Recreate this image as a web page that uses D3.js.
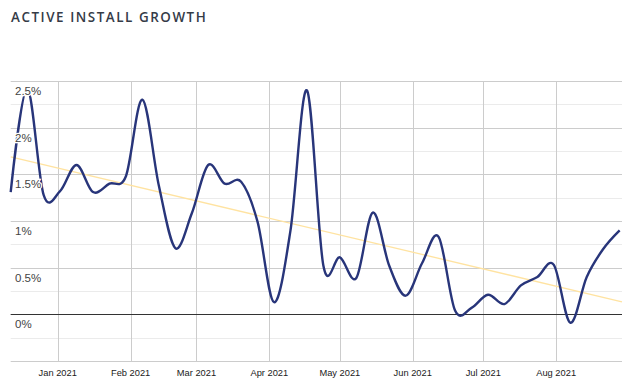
<!DOCTYPE html>
<html>
<head>
<meta charset="utf-8">
<script src="https://cdn.jsdelivr.net/npm/d3@7"></script>
<style>
  html, body { margin: 0; padding: 0; background: #fff; }
  svg { display: block; }
</style>
</head>
<body>
<svg id="chart" width="634" height="390"></svg>
<script>
// ---- data ----
const title = "ACTIVE INSTALL GROWTH";
const startDate = "2020-12-12";          // first weekly point
const growth = [                          // weekly active install growth, %
  1.31, 2.42, 1.28, 1.32, 1.60, 1.31, 1.40, 1.48, 2.30, 1.38,
  0.71, 1.08, 1.60, 1.40, 1.42, 0.99, 0.13, 0.90, 2.40, 0.52,
  0.61, 0.39, 1.09, 0.52, 0.20, 0.55, 0.83, 0.04, 0.07, 0.21,
  0.11, 0.31, 0.40, 0.53, -0.09, 0.40, 0.70, 0.90
];
const domainDates = ["2020-12-12", "2021-08-29"];
const yDomain = [-0.5, 2.5];
const yTickValues = [-0.5, -0.25, 0, 0.25, 0.5, 0.75, 1, 1.25, 1.5, 1.75, 2, 2.25, 2.5];
const yLabels = [
  { v: 2.5, t: "2.5%" }, { v: 2, t: "2%" }, { v: 1.5, t: "1.5%" },
  { v: 1, t: "1%" }, { v: 0.5, t: "0.5%" }, { v: 0, t: "0%" }
];
const monthLabels = ["Jan 2021", "Feb 2021", "Mar 2021", "Apr 2021", "May 2021", "Jun 2021", "Jul 2021", "Aug 2021"];

// ---- build ----
(function () {
const parse = d3.timeParse("%Y-%m-%d");
const t0 = parse(startDate);
const data = growth.map((v, i) => ({ date: d3.timeDay.offset(t0, 7 * i), v }));

const svg = d3.select("#chart");
const pLeft = 10.7, pRight = 622, pTop = 81, pBottom = 361;

const x = d3.scaleTime().domain(domainDates.map(parse)).range([pLeft, pRight]);
const y = d3.scaleLinear().domain(yDomain).range([pBottom, pTop]);

// title
svg.append("text")
  .attr("x", 11).attr("y", 22)
  .attr("font-family", "'Open Sans', sans-serif")
  .attr("font-size", 13.4).attr("font-weight", 600)
  .attr("letter-spacing", 1.55)
  .attr("fill", "#353b47")
  .text(title);

// horizontal grid
svg.append("g").selectAll("line").data(yTickValues).join("line")
  .attr("x1", pLeft).attr("x2", pRight)
  .attr("y1", d => Math.round(y(d)) + 0.5).attr("y2", d => Math.round(y(d)) + 0.5)
  .attr("stroke", d => (Math.abs(d * 2 - Math.round(d * 2)) < 1e-9) ? "#cccccc" : "#ebebeb")
  .attr("stroke-width", 1);

// vertical month grid
const months = d3.timeMonth.range(d3.timeMonth.ceil(x.domain()[0]), x.domain()[1]);
svg.append("g").selectAll("line").data(months).join("line")
  .attr("x1", d => Math.round(x(d)) + 0.5).attr("x2", d => Math.round(x(d)) + 0.5)
  .attr("y1", pTop).attr("y2", pBottom)
  .attr("stroke", "#cccccc").attr("stroke-width", 1);

// zero baseline
svg.append("line")
  .attr("x1", pLeft).attr("x2", pRight)
  .attr("y1", Math.round(y(0)) + 0.5).attr("y2", Math.round(y(0)) + 0.5)
  .attr("stroke", "#333333").attr("stroke-width", 1);

// linear trend line (least squares on data)
const xs = data.map(d => +d.date), ys = data.map(d => d.v);
const mx = d3.mean(xs), my = d3.mean(ys);
const slope = d3.sum(xs.map((xv, i) => (xv - mx) * (ys[i] - my))) / d3.sum(xs.map(xv => (xv - mx) ** 2));
const icpt = my - slope * mx;
const tEnds = x.domain();
svg.append("line")
  .attr("x1", x(tEnds[0])).attr("x2", x(tEnds[1]))
  .attr("y1", y(icpt + slope * +tEnds[0])).attr("y2", y(icpt + slope * +tEnds[1]))
  .attr("stroke", "#ffe3a1").attr("stroke-width", 1.3);

// data line
const line = d3.line()
  .x(d => x(d.date)).y(d => y(d.v))
  .curve(d3.curveCardinal.tension(0));
svg.append("path").datum(data)
  .attr("d", line)
  .attr("fill", "none")
  .attr("stroke", "#28357a")
  .attr("stroke-width", 2.4)
  .attr("stroke-linejoin", "round");

// y labels (inside)
svg.append("g").selectAll("text").data(yLabels).join("text")
  .attr("x", 15).attr("y", d => y(d.v) + 14)
  .attr("font-family", "'Liberation Sans', Arial, sans-serif")
  .attr("font-size", 11.5)
  .attr("fill", "#444")
  .attr("stroke", "#fff").attr("stroke-width", 2.5)
  .attr("paint-order", "stroke")
  .text(d => d.t);

// x labels
svg.append("g").selectAll("text").data(months).join("text")
  .attr("x", d => x(d)).attr("y", 376)
  .attr("text-anchor", "middle")
  .attr("font-family", "'Liberation Sans', Arial, sans-serif")
  .attr("font-size", 9.3)
  .attr("fill", "#1a1a1a")
  .text((d, i) => monthLabels[i]);
})();
</script>
</body>
</html>
